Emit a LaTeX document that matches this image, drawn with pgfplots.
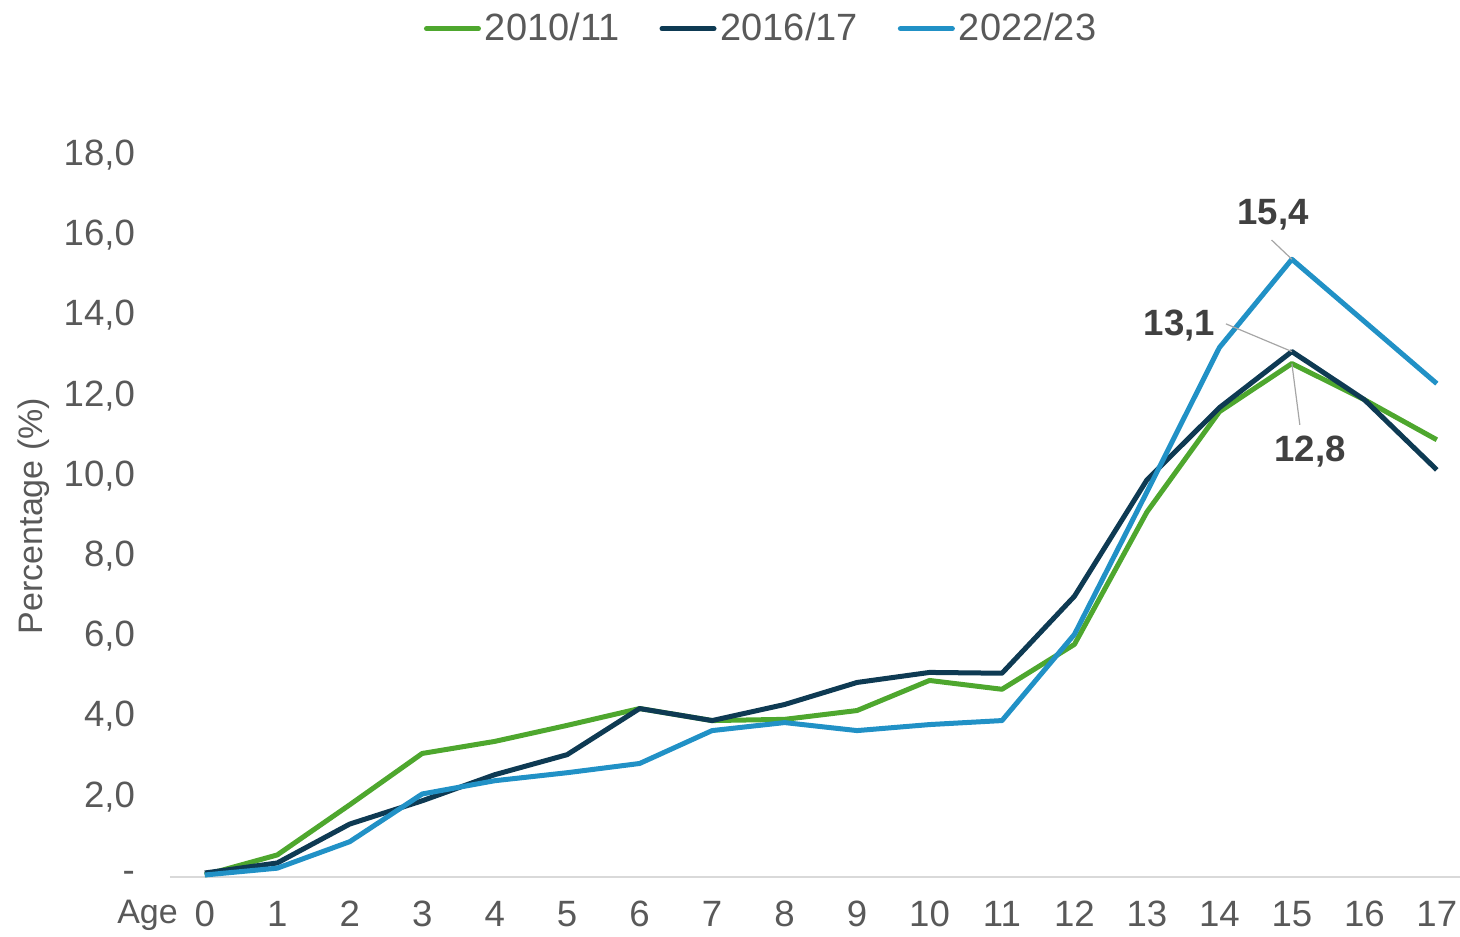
\documentclass[border=0pt]{standalone}
\usepackage{fontspec}
\setmainfont{Liberation Sans}
\usepackage{pgfplots}
\pgfplotsset{compat=1.18}
\definecolor{cgreen}{HTML}{4EA72E}
\definecolor{cnavy}{HTML}{0E3A53}
\definecolor{cblue}{HTML}{2191C6}
\definecolor{txt}{HTML}{595959}
\definecolor{lbl}{HTML}{404040}
\definecolor{axisgrey}{HTML}{D9D9D9}

\begin{document}
\begin{tikzpicture}
\path[use as bounding box] (-85pt,-29.5pt) rectangle (645pt,438.5pt);
\begin{axis}[
  at={(0,0)}, anchor=south west,
  scale only axis, width=645pt, height=361pt,
  xmin=-0.48, xmax=17.32, ymin=0, ymax=18,
  axis x line*=bottom, axis y line*=left,
  x axis line style={draw=axisgrey, line width=0.8pt},
  y axis line style={draw=none},
  xtick={0,...,17}, ytick={0,2,...,18},
  yticklabels={{-\hspace{11pt}},{2,0},{4,0},{6,0},{8,0},{10,0},{12,0},{14,0},{16,0},{18,0}},
  tick style={draw=none},
  tick label style={font=\fontsize{18.3}{21}\selectfont, text=txt},
  /pgf/number format/assume math mode=true,
  xticklabel style={yshift=-8.5pt},
  yticklabel style={xshift=-14pt},
  ylabel={Percentage (\%)},
  ylabel style={at={(rel axis cs:-0.106,0.5)}, anchor=center, font=\fontsize{17}{20}\selectfont, text=txt},
  clip=false,
  legend columns=3,
  legend style={at={(rel axis cs:0.459,1.175)}, anchor=center, draw=none, fill=none,
    font=\fontsize{19}{22}\selectfont, text=txt,
    /tikz/every even column/.append style={column sep=18pt}},
  legend image code/.code={\draw[#1, line width=2.5pt, line cap=round] (0pt,0pt) -- (26pt,0pt);},
  every axis plot/.append style={line width=2.5pt, line join=round},
]
\addplot[cgreen] coordinates {
  (0,0.05) (1,0.55) (2,1.8) (3,3.08) (4,3.38) (5,3.78) (6,4.2) (7,3.9) (8,3.93) (9,4.15)
  (10,4.9) (11,4.68) (12,5.8) (13,9.1) (14,11.6) (15,12.8) (16,11.9) (17,10.9)
};
\addlegendentry{2010/11}
\addplot[cnavy] coordinates {
  (0,0.1) (1,0.35) (2,1.32) (3,1.9) (4,2.55) (5,3.05) (6,4.2) (7,3.9) (8,4.3) (9,4.85)
  (10,5.1) (11,5.08) (12,7.0) (13,9.9) (14,11.7) (15,13.1) (16,11.9) (17,10.15)
};
\addlegendentry{2016/17}
\addplot[cblue] coordinates {
  (0,0.05) (1,0.22) (2,0.88) (3,2.07) (4,2.4) (5,2.6) (6,2.83) (7,3.65) (8,3.85) (9,3.65)
  (10,3.8) (11,3.9) (12,6.05) (13,9.6) (14,13.2) (15,15.4) (16,13.85) (17,12.3)
};
\addlegendentry{2022/23}
\draw[gray!70, line width=0.6pt] (axis cs:14.72,15.88) -- (axis cs:15,15.4);
\draw[gray!70, line width=0.6pt] (axis cs:14.09,13.79) -- (axis cs:15,13.1);
\draw[gray!70, line width=0.6pt] (axis cs:15.11,11.27) -- (axis cs:15,12.8);
\node[font=\bfseries\fontsize{18.3}{21}\selectfont, text=lbl] at (axis cs:14.74,16.5) {15,4};
\node[font=\bfseries\fontsize{18.3}{21}\selectfont, text=lbl] at (axis cs:13.45,13.74) {13,1};
\node[font=\bfseries\fontsize{18.3}{21}\selectfont, text=lbl] at (axis cs:15.25,10.6) {12,8};
\node[font=\fontsize{17}{20}\selectfont, text=txt, anchor=base] at (axis cs:-0.79,0) [yshift=-23pt] {Age};
\end{axis}
\end{tikzpicture}
\end{document}
